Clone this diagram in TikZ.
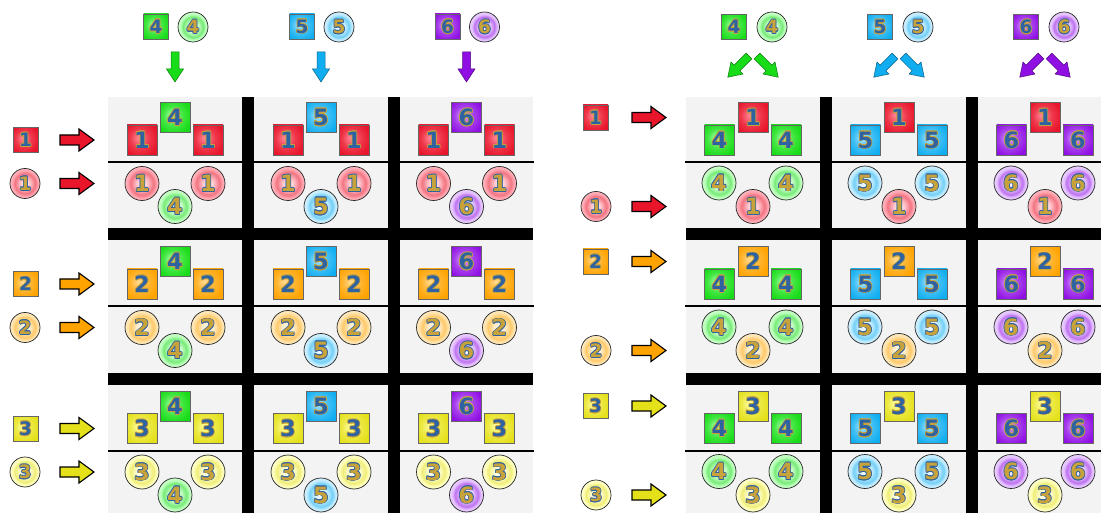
\documentclass[tikz,border=0pt]{standalone}
\usepackage{fontspec}
\newfontfamily\digfont{DejaVu Sans}
\definecolor{c1}{HTML}{E8152B}\definecolor{c1l}{HTML}{FF8A98}
\definecolor{c2}{HTML}{FFA300}\definecolor{c2l}{HTML}{FFDB95}
\definecolor{c3}{HTML}{E4E01A}\definecolor{c3l}{HTML}{FFFFA8}
\definecolor{c4}{HTML}{18DC18}\definecolor{c4l}{HTML}{A8FFA8}
\definecolor{c5}{HTML}{10AEF0}\definecolor{c5l}{HTML}{B0E6FF}
\definecolor{c6}{HTML}{9010E4}\definecolor{c6l}{HTML}{DDB0FF}
\definecolor{digblue}{HTML}{2F62A0}
\definecolor{diggold}{HTML}{C8A23A}
\definecolor{panelgrey}{HTML}{F3F3F3}
\newcommand\mkshades[1]{%
 \pgfdeclareradialshading{sq#1}{\pgfpoint{-6bp}{4bp}}{color(0bp)=(c#1l); color(16bp)=(c#1!70!c#1l); color(30bp)=(c#1); color(50bp)=(c#1)}%
 \pgfdeclareradialshading{bl#1}{\pgfpoint{0bp}{0bp}}{color(0bp)=(white); color(8bp)=(c#1l!50!white); color(17bp)=(c#1!60!white); color(21bp)=(c#1l!80!white); color(25bp)=(c#1l!60!white); color(50bp)=(c#1l!60!white)}}
\mkshades{1}\mkshades{2}\mkshades{3}\mkshades{4}\mkshades{5}\mkshades{6}
\newcommand\bigdig{\digfont\bfseries\fontsize{22.5}{22.5}\selectfont}
\newcommand\smalldig{\digfont\bfseries\fontsize{18.5}{18.5}\selectfont}
\newsavebox\digsave
\newcommand\outdig[3]{%
  \sbox\digsave{\color{#2}#3}%
  \rlap{\kern.8pt\copy\digsave}\rlap{\kern-.8pt\copy\digsave}%
  \rlap{\raise.8pt\copy\digsave}\rlap{\lower.8pt\copy\digsave}%
  \rlap{\kern.56pt\raise.56pt\copy\digsave}\rlap{\kern-.56pt\raise.56pt\copy\digsave}%
  \rlap{\kern.56pt\lower.56pt\copy\digsave}\rlap{\kern-.56pt\lower.56pt\copy\digsave}%
  {\color{#1}#3}}
\newcommand\sqdig[1]{\outdig{digblue}{diggold}{#1}}
\newcommand\baldig[1]{\outdig{diggold}{digblue}{#1}}
\begin{document}
\begin{tikzpicture}[x=1pt,y=-1pt,
  sqb/.style={rectangle, draw=black!60, line width=0.7pt, minimum size=30pt, inner sep=0pt, shade, shading=sq#1, font=\bigdig},
  sqs/.style={sqb=#1, minimum size=25pt, font=\smalldig},
  blb/.style={circle, draw=black!85, line width=0.7pt, minimum size=34pt, inner sep=0pt, shade, shading=bl#1, font=\bigdig},
  bls/.style={blb=#1, minimum size=30pt, font=\smalldig},
  sidearrow/.style={fill=c#1, draw=black, line width=1.1pt, line join=miter},
  toparrow/.style={fill=c#1, draw=c#1!55!black, line width=0.5pt},
  bar/.style={fill=black},
  midline/.style={draw=black, line width=2pt},
  sidearrowshape/.pic={\path[pic actions] (0,-5) -- (19,-5) -- (19,-11) -- (34,0) -- (19,11) -- (19,5) -- (0,5) -- cycle;},
  toparrowshape/.pic={\path[pic actions] (0,-4) -- (17,-4) -- (17,-8.5) -- (30,0) -- (17,8.5) -- (17,4) -- (0,4) -- cycle;}
]
\useasboundingbox (0,0) rectangle (1101,513);
% panels
\fill[panelgrey] (108,97) rectangle (533,513);
\fill[panelgrey] (686,97) rectangle (1101,513);
\foreach \by in {97,241,385.5}{
  \draw[midline] (108,\by+65) -- (534,\by+65);
  \draw[midline] (685,\by+65) -- (1101,\by+65);
}
\fill[bar] (108,228) rectangle (533,240);
\fill[bar] (108,373) rectangle (533,385);
\fill[bar] (242,97) rectangle (254,513);
\fill[bar] (388,97) rectangle (400,513);
\fill[bar] (686,228) rectangle (1101,240);
\fill[bar] (686,373) rectangle (1101,385);
\fill[bar] (820,97) rectangle (832,513);
\fill[bar] (966,97) rectangle (978,513);
% left panel
\foreach \cn/\xx in {4/175,5/321,6/466.5}{
  \node[sqs=\cn] (Ltopsq\cn) at (\xx-19,26.5) {\sqdig{\cn}};
  \node[bls=\cn] (Ltopbl\cn) at (\xx+18,27) {\baldig{\cn}};
  \pic[toparrow=\cn, rotate=-90] at (\xx,52) {toparrowshape};
  \foreach \rn/\by in {1/97,2/241,3/385.5}{
    \node[sqb=\cn] (L\rn\cn a) at (\xx,\by+20.5) {\sqdig{\cn}};
    \node[sqb=\rn] (L\rn\cn b) at (\xx-33,\by+43) {\sqdig{\rn}};
    \node[sqb=\rn] (L\rn\cn c) at (\xx+33,\by+43) {\sqdig{\rn}};
    \node[blb=\rn] (L\rn\cn d) at (\xx-33,\by+86.5) {\baldig{\rn}};
    \node[blb=\rn] (L\rn\cn e) at (\xx+33,\by+86.5) {\baldig{\rn}};
    \node[blb=\cn] (L\rn\cn f) at (\xx,\by+109.5) {\baldig{\cn}};
  }
}
\foreach \rn/\by in {1/97,2/241,3/385.5}{
  \node[sqs=\rn] (Lrowsq\rn) at (25.5,\by+43) {\sqdig{\rn}};
  \node[bls=\rn] (Lrowbl\rn) at (25,\by+86.5) {\baldig{\rn}};
  \pic[sidearrow=\rn] at (60,\by+43) {sidearrowshape};
  \pic[sidearrow=\rn] at (60,\by+86.5) {sidearrowshape};
}
% right panel
\foreach \cn/\xx in {4/753,5/899,6/1045}{
  \node[sqs=\cn] (Rtopsq\cn) at (\xx-19,27) {\sqdig{\cn}};
  \node[bls=\cn] (Rtopbl\cn) at (\xx+19,27) {\baldig{\cn}};
  \pic[toparrow=\cn, rotate=-135] at (\xx-4,56) {toparrowshape};
  \pic[toparrow=\cn, rotate=-45] at (\xx+4,56) {toparrowshape};
  \foreach \rn/\by in {1/97,2/241,3/385.5}{
    \node[sqb=\rn] (R\rn\cn a) at (\xx,\by+20.5) {\sqdig{\rn}};
    \node[sqb=\cn] (R\rn\cn b) at (\xx-33.5,\by+43) {\sqdig{\cn}};
    \node[sqb=\cn] (R\rn\cn c) at (\xx+33,\by+43) {\sqdig{\cn}};
    \node[blb=\cn] (R\rn\cn d) at (\xx-34,\by+86) {\baldig{\cn}};
    \node[blb=\cn] (R\rn\cn e) at (\xx+33,\by+86) {\baldig{\cn}};
    \node[blb=\rn] (R\rn\cn f) at (\xx,\by+109.5) {\baldig{\rn}};
  }
}
\foreach \rn/\by in {1/97,2/241,3/385.5}{
  \node[sqs=\rn] (Rrowsq\rn) at (595.5,\by+20.5) {\sqdig{\rn}};
  \node[bls=\rn] (Rrowbl\rn) at (596,\by+109.5) {\baldig{\rn}};
  \pic[sidearrow=\rn] at (632,\by+20.5) {sidearrowshape};
  \pic[sidearrow=\rn] at (632,\by+109.5) {sidearrowshape};
}
\end{tikzpicture}
\end{document}
